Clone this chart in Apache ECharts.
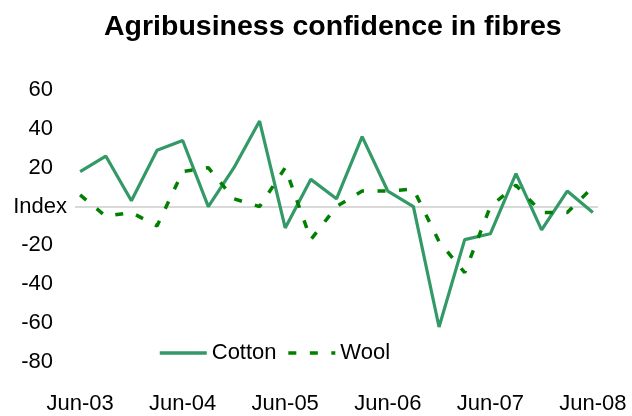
<!DOCTYPE html>
<html>
<head>
<meta charset="utf-8">
<script src="https://cdn.jsdelivr.net/npm/echarts@6/dist/echarts.min.js"></script>
<style>
html,body{margin:0;padding:0;background:#fff;}
#chart{width:632px;height:416px;}
</style>
</head>
<body>
<div id="chart"></div>
<script>
const categories = ['Jun-03','Sep-03','Dec-03','Mar-04','Jun-04','Sep-04','Dec-04','Mar-05','Jun-05','Sep-05','Dec-05','Mar-06','Jun-06','Sep-06','Dec-06','Mar-07','Jun-07','Sep-07','Dec-07','Mar-08','Jun-08'];
const cotton = [18, 26, 3, 29, 34, 0, 20, 44, -11, 14, 4, 36, 8, 0, -62, -17, -14, 17, -12, 8, -3];
const wool = [6, -5, -3, -10, 18, 20, 4, 0, 20, -17, 0, 8, 8, 9, -18, -34, 0, 11, -3, -3, 10];
const labelPositions = [0, 4, 8, 12, 16, 20];
const yTicks = {min: -80, max: 60, interval: 20};

const FONT = 'Liberation Sans, Arial, sans-serif';
const toPairs = arr => arr.map((v, i) => [i, v]);

const chart = echarts.init(document.getElementById('chart'), null, {renderer: 'canvas'});
chart.setOption({
  animation: false,
  backgroundColor: '#fff',
  title: {
    text: 'Agribusiness confidence in fibres',
    left: 99, top: 8,
    textStyle: {fontFamily: FONT, fontSize: 28.5, fontWeight: 'bold', color: '#000'}
  },
  legend: {
    left: 153, top: 337,
    itemWidth: 47, itemHeight: 2, itemGap: 10,
    lineStyle: {width: 3.5},
    itemStyle: {opacity: 0},
    textStyle: {fontFamily: FONT, fontSize: 22, color: '#000'},
    data: ['Cotton', 'Wool']
  },
  grid: {left: 75, right: 34, top: 90, bottom: 54, containLabel: false},
  xAxis: {
    type: 'value',
    min: -0.2, max: categories.length - 1 + 0.2,
    axisLine: {show: false}, axisTick: {show: false}, splitLine: {show: false},
    axisLabel: {
      customValues: labelPositions,
      formatter: v => categories[Math.round(v)] || '',
      fontFamily: FONT, fontSize: 22, color: '#000', margin: 31
    }
  },
  yAxis: [{
    type: 'value', min: yTicks.min, max: yTicks.max, interval: yTicks.interval,
    axisLine: {show: false}, axisTick: {show: false}, splitLine: {show: false},
    axisLabel: {formatter: v => v === 0 ? '' : String(v), fontFamily: FONT, fontSize: 22, color: '#000', margin: 22}
  }, {
    type: 'value', position: 'left', min: yTicks.min, max: yTicks.max, interval: yTicks.interval,
    axisLine: {show: false}, axisTick: {show: false}, splitLine: {show: false},
    axisLabel: {formatter: v => v === 0 ? 'Index' : '', fontFamily: FONT, fontSize: 22, color: '#000', margin: 8}
  }],
  series: [{
    name: 'Cotton', type: 'line', data: toPairs(cotton), yAxisIndex: 0,
    symbol: 'none', lineStyle: {color: '#339966', width: 3.2}, itemStyle: {color: '#339966'},
    z: 3,
    markLine: {
      silent: true, symbol: 'none', label: {show: false},
      lineStyle: {color: '#d9d9d9', width: 2, type: 'solid'},
      data: [{yAxis: 0}], z: 1
    }
  }, {
    name: 'Wool', type: 'line', data: toPairs(wool), yAxisIndex: 0,
    symbol: 'none', lineStyle: {color: '#008000', width: 3.5, type: [8, 13.5]}, itemStyle: {color: '#008000'},
    z: 4
  }]
});
</script>
</body>
</html>
